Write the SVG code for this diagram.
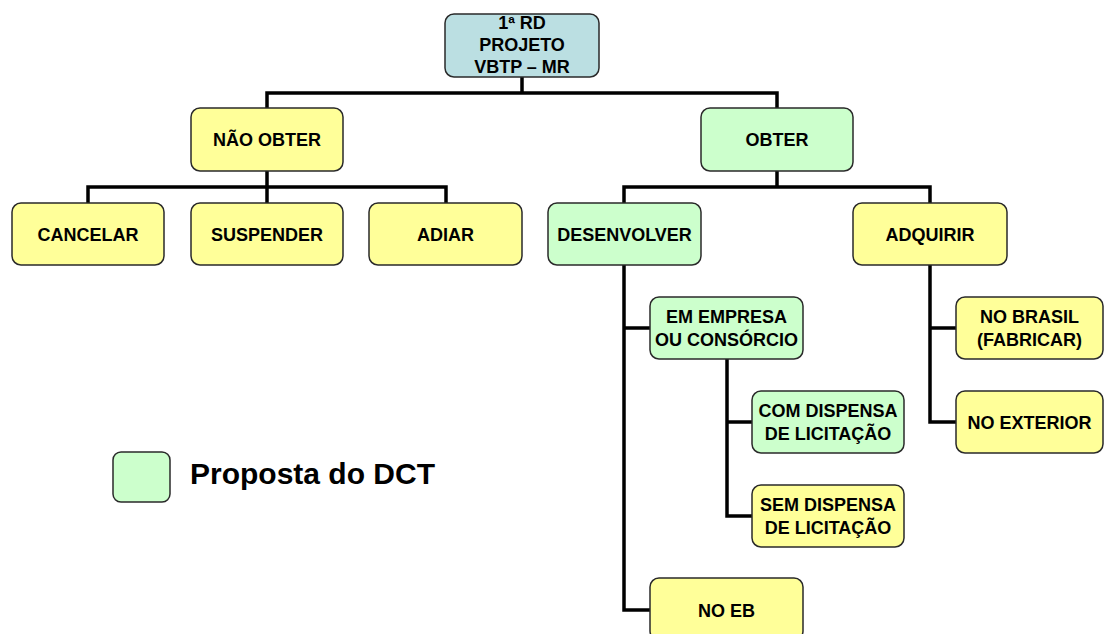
<svg xmlns="http://www.w3.org/2000/svg" width="1104" height="634" viewBox="0 0 1104 634">
<style>
.box{stroke:#2a2a2a;stroke-width:1.5}
.y{fill:#FFFF99}
.g{fill:#CCFFCC}
.t{fill:#BBDFE2}
text{font-family:"Liberation Sans",Arial,sans-serif;font-weight:bold;font-size:18px;fill:#000;text-anchor:middle}
.leg{font-size:30px;text-anchor:start}
.conn{fill:none;stroke:#000;stroke-width:3.5;stroke-linejoin:miter;stroke-linecap:butt}
</style>
<rect width="1104" height="634" fill="#fff"/>
<g id="connectors" class="conn">
<path d="M267,108 V93 H777 V108 M522,77 V93"/>
<path d="M88,203 V187 H446 V203 M267,171 V203"/>
<path d="M624,203 V187 H930 V203 M777,171 V187"/>
<path d="M624,265 V610 H650 M624,328 H650"/>
<path d="M727,359 V516 H752 M727,422 H752"/>
<path d="M930,265 V422 H956 M930,328 H956"/>
</g>
<g id="n-top"><rect class="box t" x="445" y="14" width="154" height="63" rx="9"/><text x="522" y="29">1ª RD</text><text x="522" y="51">PROJETO</text><text x="522" y="73">VBTP – MR</text></g>
<g id="n-naoobter"><rect class="box y" x="191" y="108" width="152" height="63" rx="9"/><text x="267" y="146">NÃO OBTER</text></g>
<g id="n-obter"><rect class="box g" x="701" y="108" width="152" height="63" rx="9"/><text x="777" y="146">OBTER</text></g>
<g id="n-cancelar"><rect class="box y" x="12" y="203" width="152" height="62" rx="9"/><text x="88" y="241">CANCELAR</text></g>
<g id="n-suspender"><rect class="box y" x="191" y="203" width="152" height="62" rx="9"/><text x="267" y="241">SUSPENDER</text></g>
<g id="n-adiar"><rect class="box y" x="369" y="203" width="153" height="62" rx="9"/><text x="445.5" y="241">ADIAR</text></g>
<g id="n-desenvolver"><rect class="box g" x="548" y="203" width="153" height="62" rx="9"/><text x="624.5" y="241">DESENVOLVER</text></g>
<g id="n-adquirir"><rect class="box y" x="853" y="203" width="154" height="62" rx="9"/><text x="930" y="241">ADQUIRIR</text></g>
<g id="n-empresa"><rect class="box g" x="650" y="297" width="153" height="62" rx="9"/><text x="726.5" y="323">EM EMPRESA</text><text x="726.5" y="346">OU CONSÓRCIO</text></g>
<g id="n-brasil"><rect class="box y" x="956" y="297" width="147" height="62" rx="9"/><text x="1029.5" y="323">NO BRASIL</text><text x="1029.5" y="346">(FABRICAR)</text></g>
<g id="n-com"><rect class="box g" x="752" y="391" width="152" height="62" rx="9"/><text x="828" y="417">COM DISPENSA</text><text x="828" y="440">DE LICITAÇÃO</text></g>
<g id="n-exterior"><rect class="box y" x="956" y="391" width="147" height="62" rx="9"/><text x="1029.5" y="429">NO EXTERIOR</text></g>
<g id="n-sem"><rect class="box y" x="752" y="485" width="152" height="62" rx="9"/><text x="828" y="511">SEM DISPENSA</text><text x="828" y="534">DE LICITAÇÃO</text></g>
<g id="n-noeb"><rect class="box y" x="650" y="578" width="153" height="62" rx="9"/><text x="726.5" y="617">NO EB</text></g>
<g id="legend"><rect class="box g" x="113" y="452" width="57" height="50" rx="8"/><text class="leg" x="190" y="484">Proposta do DCT</text></g>
</svg>
